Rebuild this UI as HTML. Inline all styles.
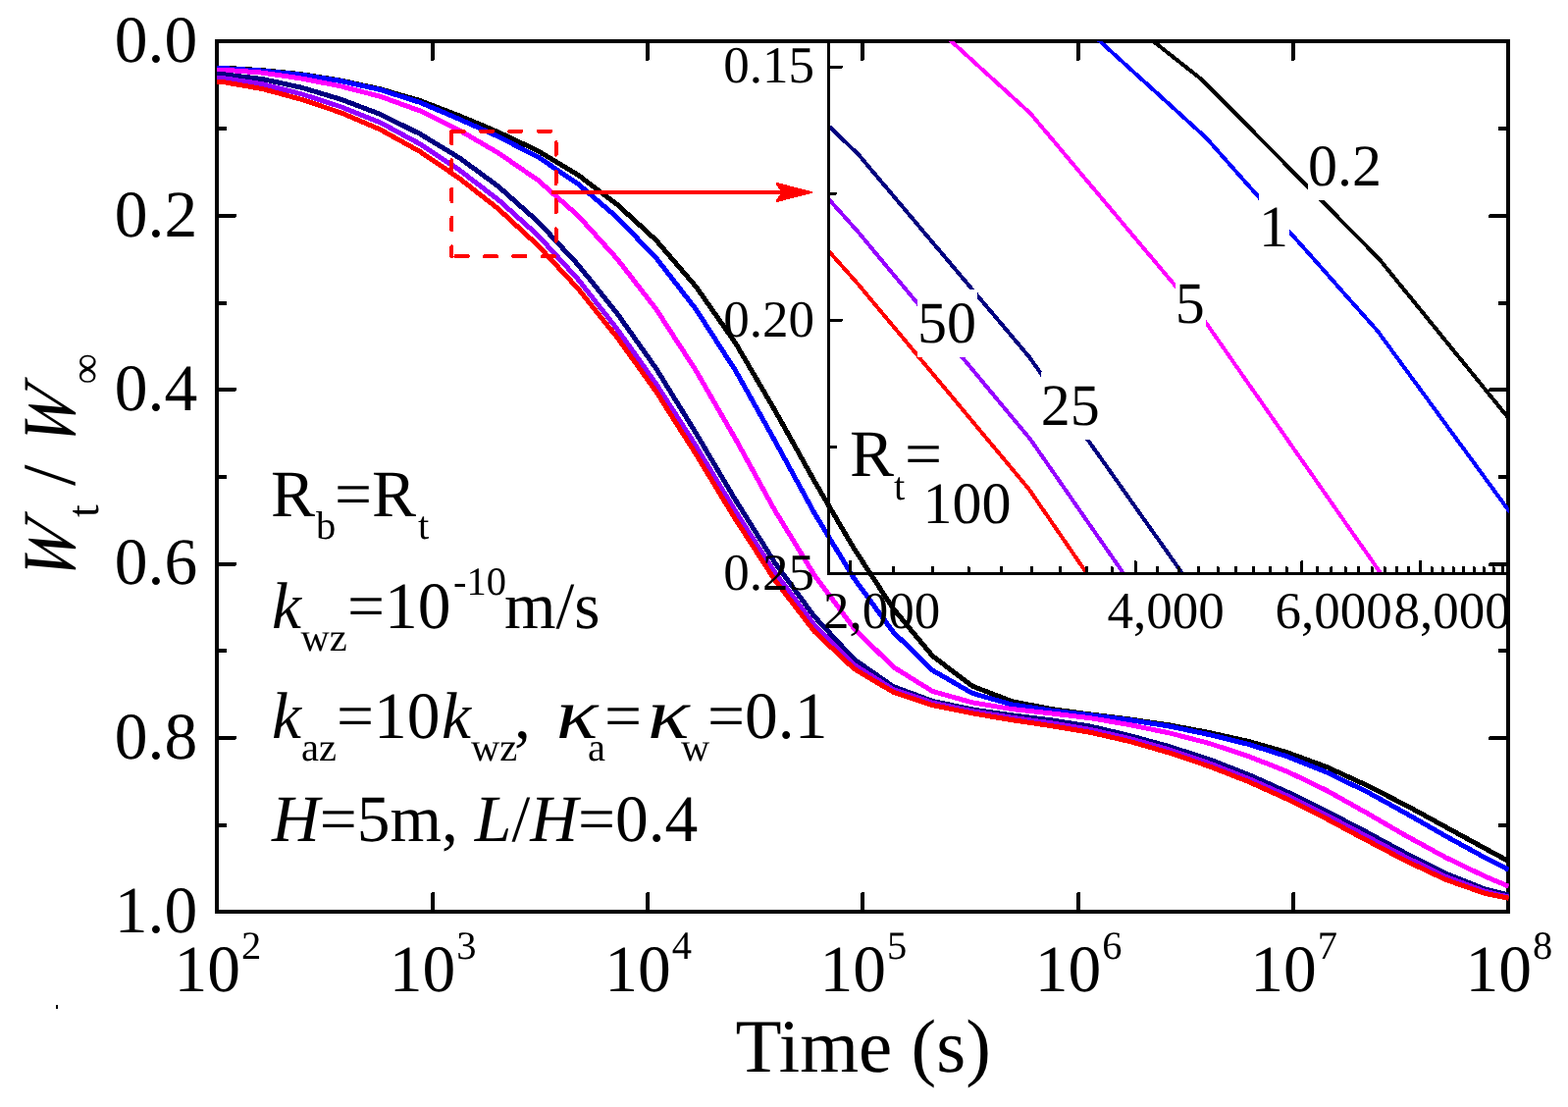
<!DOCTYPE html>
<html lang="en">
<head>
<meta charset="utf-8">
<title>Wt / W∞ versus Time</title>
<style>
html,body{margin:0;padding:0;background:#fff;}
body{width:1598px;height:1128px;overflow:hidden;}
svg{display:block;font-family:'Liberation Serif', 'DejaVu Serif', serif;fill:#000;}
svg text{white-space:pre;}
</style>
</head>
<body>
<svg width="1598" height="1128" viewBox="0 0 1598 1128" shape-rendering="crispEdges" text-rendering="geometricPrecision">
<defs>
<clipPath id="cm"><rect x="221.0" y="42.0" width="1316.6" height="887.0"/></clipPath>
<clipPath id="ci"><rect x="844.5" y="42.0" width="693.1" height="542.5"/></clipPath>
</defs>
<rect x="0" y="0" width="1598" height="1128" fill="#fff"/>
<rect x="221.0" y="42.0" width="1316.0" height="887.0" fill="none" stroke="#000" stroke-width="4"/>
<path d="M441.0,929.0 V911.0 M441.0,42.0 V60.0 M660.0,929.0 V911.0 M660.0,42.0 V60.0 M879.0,929.0 V911.0 M879.0,42.0 V60.0 M1099.0,929.0 V911.0 M1099.0,42.0 V60.0 M1318.0,929.0 V911.0 M1318.0,42.0 V60.0 M221.0,131.0 H229.5 M1537.0,131.0 H1528.5 M221.0,220.0 H239.0 M1537.0,220.0 H1519.0 M221.0,309.0 H229.5 M1537.0,309.0 H1528.5 M221.0,397.0 H239.0 M1537.0,397.0 H1519.0 M221.0,486.0 H229.5 M1537.0,486.0 H1528.5 M221.0,575.0 H239.0 M1537.0,575.0 H1519.0 M221.0,663.0 H229.5 M1537.0,663.0 H1528.5 M221.0,752.0 H239.0 M1537.0,752.0 H1519.0 M221.0,841.0 H229.5 M1537.0,841.0 H1528.5" stroke="#000" stroke-width="4" stroke-linecap="round" fill="none"/>
<g id="main-curves" clip-path="url(#cm)">
<polyline points="220.5,69.0 226.9,69.2 267.1,71.6 307.3,75.7 347.5,82.1 387.7,90.8 427.9,102.5 468.1,118.0 508.3,134.8 548.5,153.9 588.7,178.0 628.9,208.3 669.1,245.2 709.3,292.1 749.5,349.5 789.7,418.0 829.9,490.1 870.1,558.6 910.3,620.1 950.5,668.5 990.7,699.0 1030.9,714.6 1071.1,722.5 1111.3,728.0 1151.5,733.0 1191.7,738.9 1231.9,746.4 1272.1,755.4 1312.3,766.9 1352.5,781.7 1392.7,800.1 1432.9,820.6 1473.1,842.5 1513.3,864.5 1537.6,877.6" fill="none" stroke="#000000" stroke-width="3.8" stroke-linejoin="round" shape-rendering="geometricPrecision"/><polyline points="220.5,69.0 226.9,69.2 267.1,71.6 307.3,75.7 347.5,82.1 387.7,90.8 427.9,102.5 468.1,118.0 508.3,134.8 548.5,153.9 588.7,178.0 628.9,208.3 669.1,245.2 709.3,292.1 749.5,349.5 789.7,418.0 829.9,490.1 870.1,558.6 910.3,620.1 950.5,668.5 990.7,699.0 1030.9,714.6 1071.1,722.5 1111.3,728.0 1151.5,733.0 1191.7,738.9 1231.9,746.4 1272.1,755.4 1312.3,766.9 1352.5,781.7 1392.7,800.1 1432.9,820.6 1473.1,842.5 1513.3,864.5 1537.6,877.6" fill="none" stroke="#000000" stroke-width="5" stroke-linejoin="miter" />
<polyline points="220.5,69.5 226.9,69.6 267.1,72.1 307.3,76.2 347.5,82.5 387.7,91.5 427.9,104.3 468.1,121.4 508.3,139.4 548.5,160.1 588.7,187.1 628.9,221.5 669.1,263.4 709.3,315.2 749.5,377.5 789.7,449.1 829.9,522.7 870.1,589.0 910.3,644.0 950.5,683.1 990.7,706.3 1030.9,717.8 1071.1,724.0 1111.3,728.7 1151.5,733.7 1191.7,740.0 1231.9,748.5 1272.1,758.3 1312.3,771.0 1352.5,787.2 1392.7,806.6 1432.9,828.8 1473.1,851.8 1513.3,873.9 1537.6,886.3" fill="none" stroke="#0000ff" stroke-width="3.8" stroke-linejoin="round" shape-rendering="geometricPrecision"/><polyline points="220.5,69.5 226.9,69.6 267.1,72.1 307.3,76.2 347.5,82.5 387.7,91.5 427.9,104.3 468.1,121.4 508.3,139.4 548.5,160.1 588.7,187.1 628.9,221.5 669.1,263.4 709.3,315.2 749.5,377.5 789.7,449.1 829.9,522.7 870.1,589.0 910.3,644.0 950.5,683.1 990.7,706.3 1030.9,717.8 1071.1,724.0 1111.3,728.7 1151.5,733.7 1191.7,740.0 1231.9,748.5 1272.1,758.3 1312.3,771.0 1352.5,787.2 1392.7,806.6 1432.9,828.8 1473.1,851.8 1513.3,873.9 1537.6,886.3" fill="none" stroke="#0000ff" stroke-width="5" stroke-linejoin="miter" />
<polyline points="220.5,71.1 226.9,71.1 267.1,74.1 307.3,80.0 347.5,87.9 387.7,98.3 427.9,112.9 468.1,132.7 508.3,156.1 548.5,183.8 588.7,219.3 628.9,263.7 669.1,315.6 709.3,377.7 749.5,447.2 789.7,520.1 829.9,585.9 870.1,639.9 910.3,679.6 950.5,704.5 990.7,715.8 1030.9,722.5 1071.1,726.9 1111.3,731.7 1151.5,738.6 1191.7,746.9 1231.9,757.3 1272.1,770.6 1312.3,786.3 1352.5,805.7 1392.7,828.3 1432.9,851.6 1473.1,873.6 1513.3,893.0 1537.6,903.1" fill="none" stroke="#ff00ff" stroke-width="3.8" stroke-linejoin="round" shape-rendering="geometricPrecision"/><polyline points="220.5,71.1 226.9,71.1 267.1,74.1 307.3,80.0 347.5,87.9 387.7,98.3 427.9,112.9 468.1,132.7 508.3,156.1 548.5,183.8 588.7,219.3 628.9,263.7 669.1,315.6 709.3,377.7 749.5,447.2 789.7,520.1 829.9,585.9 870.1,639.9 910.3,679.6 950.5,704.5 990.7,715.8 1030.9,722.5 1071.1,726.9 1111.3,731.7 1151.5,738.6 1191.7,746.9 1231.9,757.3 1272.1,770.6 1312.3,786.3 1352.5,805.7 1392.7,828.3 1432.9,851.6 1473.1,873.6 1513.3,893.0 1537.6,903.1" fill="none" stroke="#ff00ff" stroke-width="5" stroke-linejoin="miter" />
<polyline points="220.5,75.6 226.9,75.7 267.1,80.5 307.3,89.2 347.5,101.2 387.7,116.5 427.9,136.4 468.1,160.8 508.3,190.3 548.5,226.1 588.7,269.3 628.9,319.3 669.1,376.1 709.3,441.4 749.5,509.4 789.7,573.4 829.9,628.1 870.1,671.6 910.3,699.5 950.5,714.5 990.7,722.9 1030.9,728.8 1071.1,733.8 1111.3,740.1 1151.5,749.6 1191.7,760.7 1231.9,773.6 1272.1,789.2 1312.3,807.2 1352.5,826.9 1392.7,847.9 1432.9,869.6 1473.1,890.0 1513.3,906.0 1537.6,912.1" fill="none" stroke="#000080" stroke-width="3.8" stroke-linejoin="round" shape-rendering="geometricPrecision"/><polyline points="220.5,75.6 226.9,75.7 267.1,80.5 307.3,89.2 347.5,101.2 387.7,116.5 427.9,136.4 468.1,160.8 508.3,190.3 548.5,226.1 588.7,269.3 628.9,319.3 669.1,376.1 709.3,441.4 749.5,509.4 789.7,573.4 829.9,628.1 870.1,671.6 910.3,699.5 950.5,714.5 990.7,722.9 1030.9,728.8 1071.1,733.8 1111.3,740.1 1151.5,749.6 1191.7,760.7 1231.9,773.6 1272.1,789.2 1312.3,807.2 1352.5,826.9 1392.7,847.9 1432.9,869.6 1473.1,890.0 1513.3,906.0 1537.6,912.1" fill="none" stroke="#000080" stroke-width="5" stroke-linejoin="miter" />
<polyline points="220.5,79.4 226.9,79.6 267.1,85.6 307.3,95.8 347.5,108.8 387.7,125.0 427.9,146.6 468.1,173.2 508.3,203.9 548.5,240.1 588.7,284.1 628.9,335.2 669.1,391.7 709.3,454.5 749.5,520.8 789.7,583.3 829.9,636.6 870.1,677.3 910.3,702.4 950.5,716.2 990.7,724.7 1030.9,731.2 1071.1,736.8 1111.3,743.4 1151.5,752.6 1191.7,763.9 1231.9,777.6 1272.1,793.2 1312.3,811.1 1352.5,830.9 1392.7,852.1 1432.9,873.6 1473.1,893.2 1513.3,908.3 1537.6,914.0" fill="none" stroke="#9600ff" stroke-width="3.8" stroke-linejoin="round" shape-rendering="geometricPrecision"/><polyline points="220.5,79.4 226.9,79.6 267.1,85.6 307.3,95.8 347.5,108.8 387.7,125.0 427.9,146.6 468.1,173.2 508.3,203.9 548.5,240.1 588.7,284.1 628.9,335.2 669.1,391.7 709.3,454.5 749.5,520.8 789.7,583.3 829.9,636.6 870.1,677.3 910.3,702.4 950.5,716.2 990.7,724.7 1030.9,731.2 1071.1,736.8 1111.3,743.4 1151.5,752.6 1191.7,763.9 1231.9,777.6 1272.1,793.2 1312.3,811.1 1352.5,830.9 1392.7,852.1 1432.9,873.6 1473.1,893.2 1513.3,908.3 1537.6,914.0" fill="none" stroke="#9600ff" stroke-width="5" stroke-linejoin="miter" />
<polyline points="220.5,83.0 226.9,83.5 267.1,90.5 307.3,101.3 347.5,114.9 387.7,132.1 427.9,154.4 468.1,181.7 508.3,213.2 548.5,250.4 588.7,293.7 628.9,343.7 669.1,399.6 709.3,462.9 749.5,529.1 789.7,591.1 829.9,643.4 870.1,681.3 910.3,705.2 950.5,718.6 990.7,726.8 1030.9,733.6 1071.1,739.6 1111.3,746.3 1151.5,755.6 1191.7,767.1 1231.9,780.7 1272.1,796.4 1312.3,814.5 1352.5,834.7 1392.7,856.2 1432.9,877.3 1473.1,896.2 1513.3,910.4 1537.6,915.2" fill="none" stroke="#ff0000" stroke-width="3.8" stroke-linejoin="round" shape-rendering="geometricPrecision"/><polyline points="220.5,83.0 226.9,83.5 267.1,90.5 307.3,101.3 347.5,114.9 387.7,132.1 427.9,154.4 468.1,181.7 508.3,213.2 548.5,250.4 588.7,293.7 628.9,343.7 669.1,399.6 709.3,462.9 749.5,529.1 789.7,591.1 829.9,643.4 870.1,681.3 910.3,705.2 950.5,718.6 990.7,726.8 1030.9,733.6 1071.1,739.6 1111.3,746.3 1151.5,755.6 1191.7,767.1 1231.9,780.7 1272.1,796.4 1312.3,814.5 1352.5,834.7 1392.7,856.2 1432.9,877.3 1473.1,896.2 1513.3,910.4 1537.6,915.2" fill="none" stroke="#ff0000" stroke-width="5" stroke-linejoin="miter" />
</g>
<g id="inset-curves" clip-path="url(#ci)">
<polyline points="1150.0,22.1 1177.5,43.8 1225.1,81.3 1405.3,263.6 1537.5,426.2 1560.0,453.9" fill="none" stroke="#000000" stroke-width="2.8" stroke-linejoin="round" shape-rendering="geometricPrecision"/><polyline points="1150.0,22.1 1177.5,43.8 1225.1,81.3 1405.3,263.6 1537.5,426.2 1560.0,453.9" fill="none" stroke="#000000" stroke-width="4.0" stroke-linejoin="miter" />
<polyline points="1100.0,23.0 1122.8,43.8 1228.9,140.1 1404.1,337.5 1537.5,520.0 1560.0,551.0" fill="none" stroke="#0000ff" stroke-width="2.8" stroke-linejoin="round" shape-rendering="geometricPrecision"/><polyline points="1100.0,23.0 1122.8,43.8 1228.9,140.1 1404.1,337.5 1537.5,520.0 1560.0,551.0" fill="none" stroke="#0000ff" stroke-width="4.0" stroke-linejoin="miter" />
<polyline points="950.0,24.4 971.4,43.8 1050.2,115.6 1227.3,326.4 1405.3,581.6 1420.0,603.0" fill="none" stroke="#ff00ff" stroke-width="2.8" stroke-linejoin="round" shape-rendering="geometricPrecision"/><polyline points="950.0,24.4 971.4,43.8 1050.2,115.6 1227.3,326.4 1405.3,581.6 1420.0,603.0" fill="none" stroke="#ff00ff" stroke-width="4.0" stroke-linejoin="miter" />
<polyline points="835.0,119.2 846.2,130.0 875.0,157.6 1049.0,363.8 1203.0,581.6 1218.0,603.0" fill="none" stroke="#000080" stroke-width="2.8" stroke-linejoin="round" shape-rendering="geometricPrecision"/><polyline points="835.0,119.2 846.2,130.0 875.0,157.6 1049.0,363.8 1203.0,581.6 1218.0,603.0" fill="none" stroke="#000080" stroke-width="4.0" stroke-linejoin="miter" />
<polyline points="835.0,192.0 846.2,204.7 875.0,236.9 1050.3,447.9 1143.1,581.6 1158.0,603.0" fill="none" stroke="#9600ff" stroke-width="2.8" stroke-linejoin="round" shape-rendering="geometricPrecision"/><polyline points="835.0,192.0 846.2,204.7 875.0,236.9 1050.3,447.9 1143.1,581.6 1158.0,603.0" fill="none" stroke="#9600ff" stroke-width="4.0" stroke-linejoin="miter" />
<polyline points="835.0,245.0 846.2,257.7 875.0,290.1 1049.0,498.9 1105.8,581.6 1120.5,603.5" fill="none" stroke="#ff0000" stroke-width="2.8" stroke-linejoin="round" shape-rendering="geometricPrecision"/><polyline points="835.0,245.0 846.2,257.7 875.0,290.1 1049.0,498.9 1105.8,581.6 1120.5,603.5" fill="none" stroke="#ff0000" stroke-width="4.0" stroke-linejoin="miter" />
</g>
<rect x="1333" y="135.0" width="76" height="68.6" fill="#fff"/>
<text x="1333" y="188.5" font-size="60" text-anchor="start" >0.2</text>
<rect x="1283" y="197.5" width="31" height="68.6" fill="#fff"/>
<text x="1283" y="251" font-size="60" text-anchor="start" >1</text>
<rect x="1197.8" y="275.5" width="31" height="68.6" fill="#fff"/>
<text x="1197.8" y="329" font-size="60" text-anchor="start" >5</text>
<rect x="1060.8" y="379.1" width="61" height="68.6" fill="#fff"/>
<text x="1060.8" y="432.6" font-size="60" text-anchor="start" >25</text>
<rect x="935" y="295.1" width="61" height="68.6" fill="#fff"/>
<text x="935" y="348.6" font-size="60" text-anchor="start" >50</text>
<path d="M844.5,42.0 V584.5 H1537.0" fill="none" stroke="#000" stroke-width="3"/>
<path d="M866.5,584.5 V572.0 M910.7,584.5 V578.0 M950.6,584.5 V578.0 M987.1,584.5 V578.0 M1020.6,584.5 V578.0 M1051.7,584.5 V578.0 M1080.6,584.5 V578.0 M1107.6,584.5 V578.0 M1133.0,584.5 V578.0 M1157.0,584.5 V572.0 M1179.7,584.5 V578.0 M1201.1,584.5 V578.0 M1221.6,584.5 V578.0 M1241.1,584.5 V578.0 M1259.7,584.5 V578.0 M1277.6,584.5 V578.0 M1294.7,584.5 V578.0 M1311.1,584.5 V578.0 M1326.9,584.5 V572.0 M1342.2,584.5 V578.0 M1356.9,584.5 V578.0 M1371.1,584.5 V578.0 M1384.8,584.5 V578.0 M1398.1,584.5 V578.0 M1411.0,584.5 V578.0 M1423.5,584.5 V578.0 M1435.7,584.5 V578.0 M1447.5,584.5 V572.0 M1459.0,584.5 V578.0 M1470.1,584.5 V578.0 M1481.0,584.5 V578.0 M1491.6,584.5 V578.0 M1502.0,584.5 V578.0 M1512.1,584.5 V578.0 M1522.0,584.5 V578.0 M1531.6,584.5 V578.0 M844.5,68.1 H857.5 M844.5,197.2 H851.5 M844.5,326.3 H857.5 M844.5,455.4 H851.5" stroke="#000" stroke-width="3" stroke-linecap="round" fill="none"/>
<path d="M460.4,133.8 H566.6 V261.2 H460.4" fill="none" stroke="#ff0000" stroke-width="4" stroke-linecap="round" stroke-dasharray="12.4 17"/>
<path d="M460.4,133.8 V261.2" fill="none" stroke="#ff0000" stroke-width="4" stroke-linecap="round" stroke-dasharray="12.4 17"/>
<path d="M562,196 H800" fill="none" stroke="#ff0000" stroke-width="4"/>
<path d="M827,196 L791.5,187 L797.5,196 L791.5,205 Z" fill="#ff0000" stroke="#ff0000" stroke-width="2" stroke-linejoin="round"/>
<text x="201.2" y="63.2" font-size="67.5" text-anchor="end" >0.0</text>
<text x="201.2" y="240.6" font-size="67.5" text-anchor="end" >0.2</text>
<text x="201.2" y="418.0" font-size="67.5" text-anchor="end" >0.4</text>
<text x="201.2" y="595.4" font-size="67.5" text-anchor="end" >0.6</text>
<text x="201.2" y="772.8" font-size="67.5" text-anchor="end" >0.8</text>
<text x="201.2" y="950.2" font-size="67.5" text-anchor="end" >1.0</text>
<text y="1010" font-size="67.5"><tspan x="177.5">10</tspan><tspan x="246.0" y="977" font-size="40.5">2</tspan></text>
<text y="1010" font-size="67.5"><tspan x="396.8">10</tspan><tspan x="465.3" y="977" font-size="40.5">3</tspan></text>
<text y="1010" font-size="67.5"><tspan x="616.2">10</tspan><tspan x="684.7" y="977" font-size="40.5">4</tspan></text>
<text y="1010" font-size="67.5"><tspan x="835.5">10</tspan><tspan x="904.0" y="977" font-size="40.5">5</tspan></text>
<text y="1010" font-size="67.5"><tspan x="1054.8">10</tspan><tspan x="1123.3" y="977" font-size="40.5">6</tspan></text>
<text y="1010" font-size="67.5"><tspan x="1274.2">10</tspan><tspan x="1342.7" y="977" font-size="40.5">7</tspan></text>
<text y="1010" font-size="67.5"><tspan x="1493.5">10</tspan><tspan x="1562.0" y="977" font-size="40.5">8</tspan></text>
<text x="749.5" y="1092" font-size="77" text-anchor="start" >Time (s)</text>
<g transform="translate(76,587.85) rotate(-90)" font-size="77"><text transform="translate(-7.5,0) skewX(-13) scale(0.9,1)" font-style="italic">W</text><text x="60.8" y="24" font-size="46">t</text><text x="92.9" y="0">/</text><text transform="translate(129.3,0) skewX(-13) scale(0.9,1)" font-style="italic">W</text><text x="196.4" y="26" font-size="44">∞</text></g>
<text font-size="67.5"><tspan x="276" y="526">R</tspan><tspan x="322" y="548.5" font-size="40.5">b</tspan><tspan x="341" y="526">=R</tspan><tspan x="426" y="548.5" font-size="40.5">t</tspan></text>
<text font-size="67.5"><tspan x="277" y="640" font-style="italic">k</tspan><tspan x="306.5" y="663" font-size="40.5">wz</tspan><tspan x="354" y="640">=10</tspan><tspan x="462" y="606" font-size="40.5">-10</tspan><tspan x="514" y="640">m/s</tspan></text>
<text font-size="67.5"><tspan x="277" y="751.5" font-style="italic">k</tspan><tspan x="307" y="775.3" font-size="40.5">az</tspan><tspan x="343" y="751.5">=10</tspan><tspan x="450" y="751.5" font-style="italic">k</tspan><tspan x="480" y="775.3" font-size="40.5">wz</tspan><tspan x="524" y="751.5">,</tspan><tspan x="599" y="775.3" font-size="40.5">a</tspan><tspan x="616" y="751.5">=</tspan><tspan x="694" y="775.3" font-size="40.5">w</tspan><tspan x="721" y="751.5">=0.1</tspan></text>
<text font-size="67.5" y="856.5"><tspan x="277" font-style="italic">H</tspan><tspan>=5m, </tspan><tspan font-style="italic">L</tspan><tspan>/</tspan><tspan font-style="italic">H</tspan><tspan>=0.4</tspan></text>
<text transform="translate(566.7,751.8) scale(1.32,1.08)" font-size="67.5" font-style="italic">κ</text>
<text transform="translate(660.1,751.8) scale(1.32,1.08)" font-size="67.5" font-style="italic">κ</text>
<text x="830" y="84" font-size="53" text-anchor="end" >0.15</text>
<text x="830" y="342.7" font-size="53" text-anchor="end" >0.20</text>
<text x="830" y="601.4" font-size="53" text-anchor="end" >0.25</text>
<text x="898.7" y="640" font-size="53" text-anchor="middle" >2,000</text>
<text x="1188" y="640" font-size="53" text-anchor="middle" >4,000</text>
<text x="1359" y="640" font-size="53" text-anchor="middle" >6,000</text>
<text x="1480" y="640" font-size="53" text-anchor="middle" >8,000</text>
<text x="940.5" y="533.2" font-size="60" text-anchor="start" >100</text>
<text font-size="67.5"><tspan x="866" y="485">R</tspan><tspan x="911" y="508.5" font-size="40.5">t</tspan><tspan x="922" y="485">=</tspan></text>
<rect x="57" y="1024" width="2" height="4" fill="#000"/>
</svg>
</body>
</html>
